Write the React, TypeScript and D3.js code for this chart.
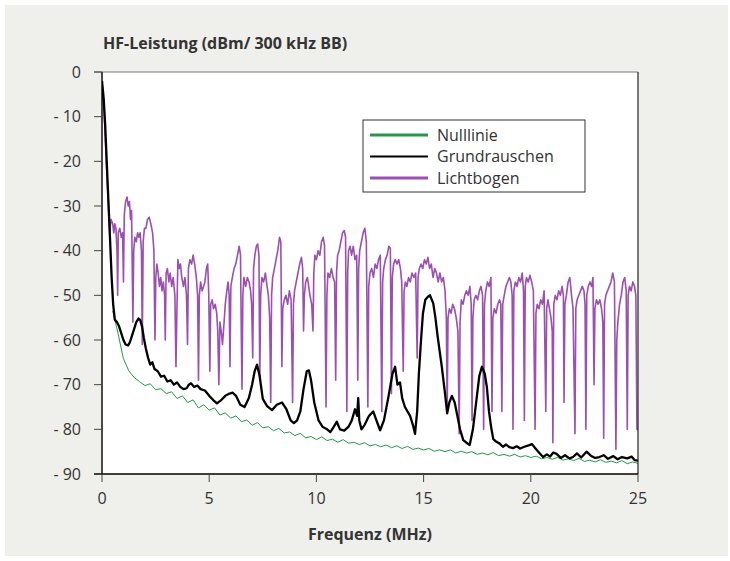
import React from "react";
import * as d3 from "d3";

// ---------- data ----------
const yTicks = [0, -10, -20, -30, -40, -50, -60, -70, -80, -90];
const xTicks = [0, 5, 10, 15, 20, 25];
const seriesNames = ["Nulllinie", "Grundrauschen", "Lichtbogen"];
const seriesColors = ["#23994a", "#000000", "#9b4fb0"];

// Nulllinie: sampled from 0.5 MHz in 0.25 MHz steps
const nullStart = 0.5;
const nullStep = 0.25;
const nulllinie = [
  -53.5, -58.6,
  -64.2, -66.9, -68.4, -69.3,
  -70.2, -69.8, -71.1, -70.9,
  -72.0, -71.6, -73.1, -72.5,
  -74.0, -73.4, -75.2, -74.5,
  -75.7, -75.2, -76.8, -76.3,
  -77.5, -77.0, -78.3, -77.9,
  -79.1, -78.5, -79.7, -79.4,
  -80.3, -79.8, -80.8, -80.6,
  -81.4, -80.9, -81.9, -81.6,
  -82.3, -81.7, -82.5, -82.2,
  -82.9, -82.3, -83.1, -82.9,
  -83.4, -83.0, -83.7, -83.4,
  -83.9, -83.5, -84.1, -83.7,
  -84.3, -83.8, -84.5, -84.2,
  -84.6, -84.3, -84.9, -84.6,
  -85.0, -84.6, -85.3, -84.9,
  -85.3, -85.0, -85.6, -85.3,
  -85.7, -85.2, -85.9, -85.6,
  -86.0, -85.6, -86.2, -85.9,
  -86.3, -86.0, -86.6, -86.3,
  -86.7, -86.3, -86.9, -86.6,
  -87.0, -86.5, -87.2, -86.9,
  -87.3, -86.8, -87.4, -87.1,
  -87.5, -87.0, -87.7, -87.3,
  -87.6,
];

// Grundrauschen: [MHz, dBm]
const grundrauschen: [number, number][] = [
  [0, -2], [0.08, -6], [0.15, -12], [0.22, -20], [0.3, -29], [0.38, -38], [0.45, -46],
  [0.52, -52], [0.6, -55.5], [0.7, -56], [0.8, -57], [0.9, -58.5], [1.0, -60], [1.1, -61],
  [1.22, -61.2], [1.3, -60.5], [1.4, -59], [1.5, -57.5], [1.6, -56], [1.7, -55.2], [1.78, -55.5],
  [1.87, -57], [1.95, -59.5], [2.05, -62], [2.15, -64], [2.25, -65.5], [2.35, -65], [2.45, -66.5],
  [2.6, -67], [2.75, -68.2], [2.9, -68], [3.05, -69.3], [3.2, -69], [3.35, -70], [3.5, -69.5],
  [3.65, -70.5], [3.8, -71], [3.95, -70.8], [4.05, -70], [4.15, -69.7], [4.3, -70.5], [4.45, -70.2],
  [4.6, -71], [4.8, -71.3], [5.0, -72.5], [5.2, -73.5], [5.36, -74.2], [5.55, -73.5], [5.75, -72.5],
  [5.95, -72], [6.1, -71.8], [6.25, -72.5], [6.45, -74.5], [6.65, -75], [6.85, -73], [7.0, -70],
  [7.12, -67], [7.23, -65.5], [7.35, -68], [7.5, -73.2], [7.7, -74.8], [7.93, -75.7], [8.15, -74.5],
  [8.4, -74], [8.6, -75.5], [8.8, -78], [8.95, -78.6], [9.1, -78], [9.25, -76], [9.4, -71],
  [9.55, -67], [9.65, -66.8], [9.75, -69], [9.9, -74], [10.1, -78], [10.3, -79.5], [10.5, -80],
  [10.65, -80.6], [10.8, -79.5], [10.95, -78.3], [11.1, -80], [11.3, -80.3], [11.5, -79.4],
  [11.65, -78], [11.8, -75.5], [11.9, -77], [11.95, -73], [12.0, -78], [12.1, -80], [12.25, -79],
  [12.45, -77], [12.65, -76], [12.8, -78], [12.97, -80.2], [13.15, -78], [13.35, -73], [13.55, -67.5],
  [13.67, -66], [13.78, -70], [13.9, -69.5], [14.0, -73], [14.13, -75], [14.25, -76], [14.37, -77],
  [14.5, -79], [14.6, -81], [14.7, -76], [14.78, -67.5], [14.88, -60], [14.97, -54], [15.08, -51],
  [15.2, -50.3], [15.3, -50], [15.45, -51.8], [15.55, -55], [15.65, -59], [15.85, -66], [16.0, -72],
  [16.1, -76.4], [16.2, -74], [16.32, -72.5], [16.45, -74], [16.55, -76.4], [16.7, -80], [16.85, -82.4],
  [17.0, -83], [17.15, -83.5], [17.3, -80], [17.45, -74], [17.6, -68], [17.72, -66], [17.85, -67.5],
  [17.95, -70.5], [18.05, -76], [18.15, -79.5], [18.25, -82.2], [18.4, -82.8], [18.55, -83.2],
  [18.7, -83.9], [18.85, -83.4], [19.0, -84], [19.17, -84.2], [19.35, -83.8], [19.5, -84.3],
  [19.7, -83.9], [19.9, -83.6], [20.05, -83.3], [20.2, -84.2], [20.4, -85.3], [20.57, -86.2],
  [20.75, -85.6], [20.9, -86.1], [21.05, -85.2], [21.2, -85.5], [21.4, -86.4], [21.6, -85.8],
  [21.8, -86.5], [21.97, -86.2], [22.15, -85.4], [22.35, -86.3], [22.6, -85], [22.8, -85.9],
  [23.0, -86.4], [23.2, -86.2], [23.4, -85.8], [23.6, -86.6], [23.85, -86], [24.05, -86.7],
  [24.25, -86.2], [24.5, -86.5], [24.7, -86.1], [24.85, -86.9], [25.0, -87],
];

// Lichtbogen: [MHz, dBm]
const lichtbogen: [number, number][] = [
  [0, -3], [0.1, -9], [0.2, -20], [0.3, -30], [0.36, -36], [0.42, -33], [0.5, -34], [0.55, -36],
  [0.6, -34], [0.65, -35], [0.7, -40], [0.73, -50], [0.76, -36], [0.83, -35], [0.9, -37], [0.96, -36],
  [1.0, -47], [1.04, -32], [1.1, -29], [1.17, -28], [1.22, -30], [1.28, -29], [1.33, -33], [1.38, -31],
  [1.44, -56], [1.48, -40], [1.53, -37], [1.6, -38], [1.66, -36], [1.72, -37], [1.78, -36], [1.84, -40],
  [1.88, -61], [1.92, -38], [1.98, -35], [2.05, -35], [2.12, -33], [2.2, -32.5], [2.28, -34], [2.36, -36],
  [2.42, -40], [2.47, -60], [2.51, -46], [2.56, -43], [2.62, -45], [2.68, -48], [2.74, -46], [2.8, -49],
  [2.86, -47], [2.92, -50], [2.95, -60], [2.99, -45], [3.05, -44], [3.12, -47], [3.18, -45], [3.25, -48],
  [3.32, -46], [3.4, -50], [3.45, -66], [3.5, -52], [3.54, -42], [3.6, -44], [3.66, -43], [3.72, -46],
  [3.8, -48], [3.87, -46], [3.94, -50], [3.99, -61], [4.03, -44], [4.1, -42], [4.18, -43], [4.25, -41],
  [4.32, -43], [4.4, -46], [4.46, -50], [4.5, -69], [4.54, -50], [4.6, -47], [4.67, -49], [4.74, -48],
  [4.8, -47], [4.87, -44], [4.93, -43], [4.98, -50], [5.03, -67], [5.07, -52], [5.14, -51], [5.2, -53],
  [5.28, -52], [5.35, -54], [5.4, -58], [5.45, -70], [5.5, -56], [5.56, -58], [5.62, -61], [5.68, -57],
  [5.75, -52], [5.82, -49], [5.88, -47], [5.93, -50], [5.97, -66], [6.01, -48], [6.08, -46], [6.16, -44],
  [6.24, -43], [6.32, -41], [6.4, -39], [6.46, -41], [6.5, -60], [6.53, -71], [6.57, -50], [6.62, -46],
  [6.7, -48], [6.78, -46], [6.86, -47], [6.93, -49], [6.98, -52], [7.03, -64], [7.07, -44], [7.13, -41],
  [7.2, -39], [7.26, -38.5], [7.32, -41], [7.36, -69], [7.4, -50], [7.46, -46], [7.54, -47], [7.62, -45],
  [7.7, -48], [7.76, -50], [7.82, -55], [7.87, -74], [7.91, -50], [7.96, -46], [8.04, -44], [8.12, -42],
  [8.2, -40], [8.28, -37], [8.34, -38], [8.39, -66], [8.43, -53], [8.5, -51], [8.58, -50], [8.66, -52],
  [8.74, -49], [8.82, -51], [8.89, -74], [8.93, -52], [8.98, -49], [9.06, -47], [9.14, -45], [9.22, -43],
  [9.3, -41.5], [9.36, -44], [9.4, -58], [9.44, -50], [9.5, -47], [9.58, -46], [9.64, -48], [9.7, -50],
  [9.78, -52], [9.84, -58], [9.88, -45], [9.93, -41], [10.0, -42], [10.08, -40], [10.16, -41], [10.24, -38],
  [10.32, -37], [10.38, -39], [10.45, -75], [10.49, -50], [10.54, -45], [10.62, -46], [10.7, -44], [10.78, -46],
  [10.85, -47], [10.9, -69], [10.94, -45], [10.99, -41], [11.06, -40], [11.14, -38], [11.22, -36], [11.3, -35.5],
  [11.36, -37], [11.42, -76], [11.46, -45], [11.5, -40], [11.57, -39], [11.64, -41], [11.72, -39], [11.8, -42],
  [11.88, -41], [11.93, -69], [11.97, -44], [12.02, -40], [12.1, -38], [12.18, -36], [12.26, -35], [12.33, -38],
  [12.4, -75], [12.44, -48], [12.5, -45], [12.58, -44], [12.66, -46], [12.74, -43], [12.82, -44], [12.9, -42],
  [12.98, -41], [13.05, -76], [13.09, -47], [13.14, -44], [13.22, -42], [13.3, -41], [13.38, -39], [13.45, -39.5],
  [13.5, -72], [13.54, -46], [13.6, -43], [13.68, -42], [13.76, -43], [13.84, -42], [13.92, -44], [13.98, -47],
  [14.05, -67], [14.09, -49], [14.15, -47], [14.22, -48], [14.3, -46], [14.38, -47], [14.46, -45], [14.55, -46],
  [14.63, -45], [14.7, -64], [14.74, -46], [14.8, -44], [14.88, -43], [14.96, -44], [15.04, -42], [15.12, -43],
  [15.2, -41.5], [15.28, -44], [15.36, -43], [15.44, -46], [15.52, -44], [15.6, -45], [15.68, -47], [15.76, -45],
  [15.84, -47], [15.92, -46], [16.0, -49], [16.06, -55], [16.1, -76], [16.14, -55], [16.2, -53], [16.28, -54],
  [16.36, -52], [16.44, -53], [16.52, -55], [16.6, -58], [16.66, -81], [16.7, -56], [16.76, -51], [16.84, -52],
  [16.92, -50], [17.0, -49], [17.08, -50], [17.16, -48], [17.22, -52], [17.26, -78], [17.3, -55], [17.36, -51],
  [17.44, -50], [17.52, -51], [17.6, -49], [17.68, -48], [17.75, -50], [17.8, -80], [17.84, -52], [17.9, -49],
  [17.98, -47], [18.06, -48], [18.14, -46], [18.19, -76], [18.23, -55], [18.3, -53], [18.38, -54], [18.46, -52],
  [18.54, -51], [18.6, -52], [18.65, -76], [18.69, -52], [18.76, -50], [18.84, -48], [18.92, -47], [19.0, -46],
  [19.07, -47], [19.13, -50], [19.17, -80], [19.21, -49], [19.28, -47], [19.36, -48], [19.44, -46], [19.52, -47],
  [19.6, -45], [19.66, -49], [19.7, -78], [19.74, -48], [19.8, -46], [19.88, -47], [19.96, -45.5], [20.04, -47],
  [20.12, -49], [20.2, -80], [20.24, -54], [20.3, -52], [20.38, -53], [20.46, -51], [20.54, -52], [20.62, -49],
  [20.7, -76], [20.74, -53], [20.8, -51], [20.87, -53], [20.94, -55], [21.0, -58], [21.03, -83], [21.07, -52],
  [21.14, -50], [21.22, -51], [21.3, -49], [21.38, -50], [21.46, -48], [21.52, -50], [21.55, -74], [21.59, -52],
  [21.66, -50], [21.74, -47], [21.82, -46], [21.9, -50], [21.97, -53], [22.06, -81], [22.1, -53], [22.16, -51],
  [22.24, -50], [22.32, -49], [22.4, -48], [22.48, -49], [22.53, -52], [22.57, -80], [22.61, -50], [22.68, -48],
  [22.76, -47], [22.84, -48], [22.9, -46], [22.95, -70], [22.99, -53], [23.06, -51], [23.14, -52], [23.22, -51],
  [23.3, -53], [23.36, -56], [23.4, -82], [23.44, -52], [23.5, -50], [23.58, -49], [23.66, -48], [23.74, -47],
  [23.82, -45], [23.9, -47], [23.97, -84.5], [24.01, -60], [24.06, -56], [24.14, -52], [24.22, -50], [24.3, -47],
  [24.38, -46], [24.45, -49], [24.5, -80], [24.54, -50], [24.6, -48], [24.68, -49], [24.76, -47], [24.84, -48],
  [24.9, -50], [24.95, -80], [25.0, -80],
];

// ---------- chart ----------
const W = 730;
const H = 561;
const L = 102, R = 638, T = 72, B = 474;
const FONT = "'Open Sans', 'Noto Sans', sans-serif";
const TXT = "#333333";

export default function App() {
  const x = d3.scaleLinear().domain([0, 25]).range([L, R]);
  const y = d3.scaleLinear().domain([-90, 0]).range([B, T]);
  const line = d3
    .line<[number, number]>()
    .x((d) => x(d[0]))
    .y((d) => y(d[1]));

  const nullPts: [number, number][] = nulllinie.map((v, i) => [nullStart + i * nullStep, v]);

  const fmtY = (v: number) => (v === 0 ? "0" : `- ${Math.abs(v)}`);

  const legendX = 363, legendY = 120, legendW = 222, legendH = 72;

  return (
    <div style={{ position: "absolute", left: 0, top: 0 }}>
      <svg width={W} height={H} style={{ display: "block" }}>
        <rect x={0} y={0} width={W} height={H} fill="#ffffff" />
        <rect x={5} y={5} width={723} height={551} fill="#efefeb" />
        <rect x={L} y={T} width={R - L} height={B - T} fill="#ffffff" />

        <text x={103} y={49} fontFamily={FONT} fontWeight="bold" fontSize={16} fill={TXT}>
          HF-Leistung (dBm/ 300 kHz BB)
        </text>

        <defs>
          <clipPath id="plotclip">
            <rect x={L} y={T - 2} width={R - L} height={B - T + 2} />
          </clipPath>
        </defs>

        <g clipPath="url(#plotclip)">
          <path d={line(lichtbogen) || ""} fill="none" stroke={seriesColors[2]} strokeWidth={1.6} strokeLinejoin="round" />
          <path d={line(nullPts) || ""} fill="none" stroke={seriesColors[0]} strokeWidth={1} strokeLinejoin="round" />
          <path d={line(grundrauschen) || ""} fill="none" stroke={seriesColors[1]} strokeWidth={2.3} strokeLinejoin="round" />
        </g>

        {/* frame */}
        <line x1={94} x2={R} y1={T} y2={T} stroke="#7a7a7a" strokeWidth={1.2} />
        <line x1={R} x2={R} y1={T} y2={B} stroke="#222" strokeWidth={1.2} />
        <line x1={L} x2={L} y1={T} y2={B} stroke="#000" strokeWidth={1.4} />
        <line x1={94} x2={R} y1={B} y2={B} stroke="#000" strokeWidth={1.4} />

        {yTicks.map((t) => (
          <g key={"y" + t}>
            <line x1={94} x2={L} y1={y(t)} y2={y(t)} stroke="#444" strokeWidth={1} />
            <text x={81} y={y(t)} dy="0.35em" textAnchor="end" fontFamily={FONT} fontSize={16} fill={TXT}>
              {fmtY(t)}
            </text>
          </g>
        ))}
        {xTicks.map((t) => (
          <g key={"x" + t}>
            <line x1={x(t)} x2={x(t)} y1={B} y2={B + 8} stroke="#444" strokeWidth={1} />
            <text x={x(t)} y={504} textAnchor="middle" fontFamily={FONT} fontSize={16} fill={TXT}>
              {t}
            </text>
          </g>
        ))}

        <text x={370} y={540} textAnchor="middle" fontFamily={FONT} fontWeight="bold" fontSize={16} fill={TXT}>
          Frequenz (MHz)
        </text>

        {/* legend */}
        <rect x={legendX} y={legendY} width={legendW} height={legendH} fill="#ffffff" stroke="#333" strokeWidth={1} />
        {seriesNames.map((n, i) => (
          <g key={n}>
            <line
              x1={370}
              x2={428}
              y1={legendY + 15 + i * 21.5}
              y2={legendY + 15 + i * 21.5}
              stroke={seriesColors[i]}
              strokeWidth={i === 1 ? 2 : 3}
            />
            <text x={437} y={legendY + 15 + i * 21.5} dy="0.35em" fontFamily={FONT} fontSize={16} fill={TXT}>
              {n}
            </text>
          </g>
        ))}
      </svg>
    </div>
  );
}
